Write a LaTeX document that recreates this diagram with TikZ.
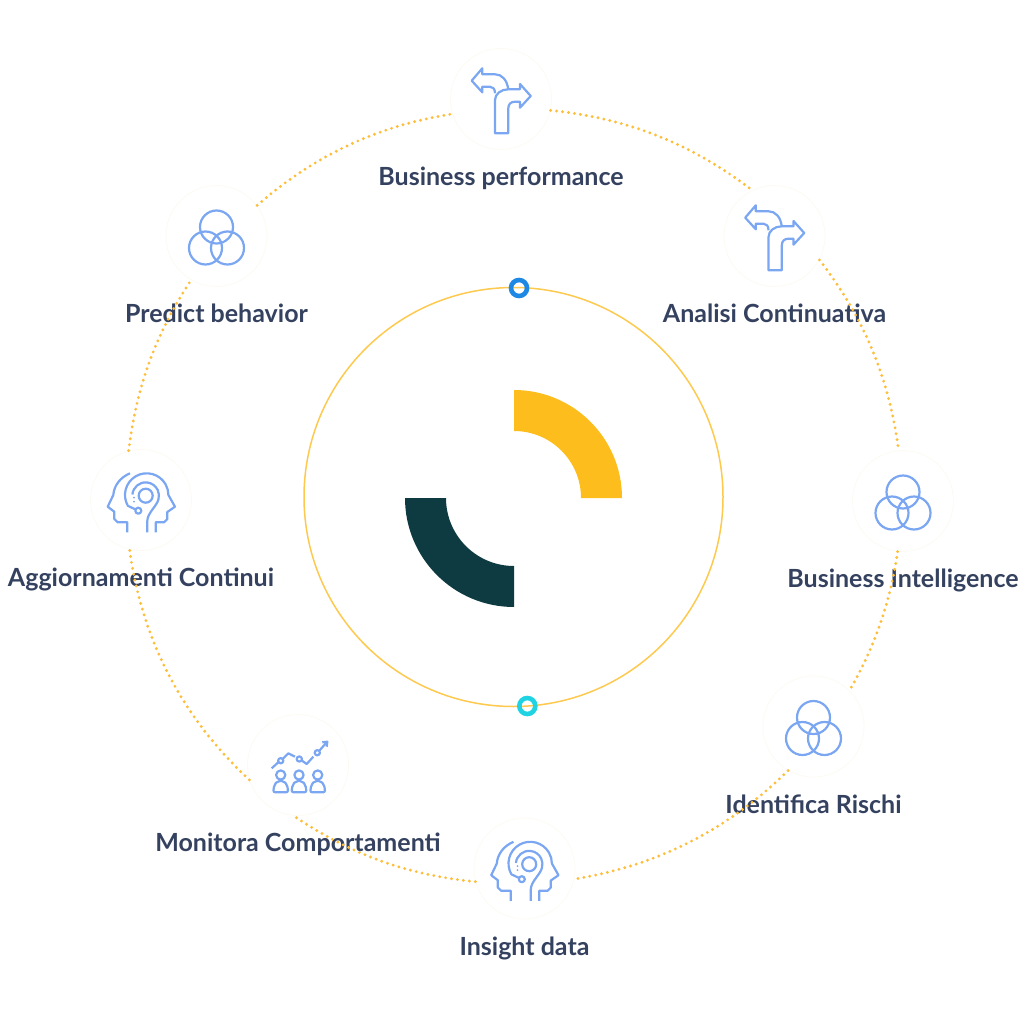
\documentclass[tikz,border=0pt]{standalone}
\usepackage{fontspec}
\setmainfont{Lato}
\usetikzlibrary{positioning}

\definecolor{ringyellow}{HTML}{FDC94F}
\definecolor{dotyellow}{HTML}{FDBE3C}
\definecolor{arcyellow}{HTML}{FDBE1D}
\definecolor{arcdark}{HTML}{0E3A41}
\definecolor{iconblue}{HTML}{7AA6F2}
\definecolor{labelnavy}{HTML}{34415F}
\definecolor{discline}{HTML}{FCFAF3}
\definecolor{markblue}{HTML}{1E88E5}
\definecolor{markcyan}{HTML}{1FD3E3}

\tikzset{
    iconline/.style={draw=iconblue, line width=2.2pt, line join=round},
    forkicon/.pic={
        \draw[iconline] (-6,34.3) -- (7.3,34.3) -- (7.3,9.3) .. controls (7.3,5) and (10,2.7) .. (14,2.7) -- (19,2.7) -- (19,8.7) -- (29.7,-3) -- (19,-15) -- (19,-9.7) -- (7.3,-9.7) .. controls (0,-9.7) and (-6,-5) .. (-6,1) -- cycle;
        \draw[iconline] (7.3,-9.7) .. controls (6,-19) and (1,-24.7) .. (-6,-24.7) -- (-18.7,-24.7) -- (-18.7,-30.7) -- (-29.3,-18.3) -- (-18.7,-6.7) -- (-18.7,-12.3) -- (-11,-12.3) .. controls (-8,-12.3) and (-6,-10) .. (-6,-5.7);
    },
    vennicon/.pic={
        \draw[iconline] (0,-9) circle[radius=16.5];
        \draw[iconline] (-11,12) circle[radius=16.5];
        \draw[iconline] (11,12) circle[radius=16.5];
    },
    headsicon/.pic={
        % left face
        \draw[iconline] (-11,-26.7) .. controls (-20,-23) and (-27,-15) .. (-27.7,-5) -- (-33.3,6.7) -- (-26.7,11.7) -- (-26.7,19) -- (-23.3,22.3) -- (-13.7,22.3) -- (-13.7,32.3);
        % right face, running on from the small ring
        \draw[iconline] (-5.3,9.5) -- (-13.1,5.85) arc[start angle=150, end angle=360, radius=21.7] -- (34,6.7) -- (26.3,12) -- (26.3,19) -- (23,22.3) -- (14.7,22.3) -- (14.7,32.3);
        \draw[iconline] (-8.6,-5.5) arc[start angle=-175, end angle=15, radius=13.3] .. controls (16,6) and (6.3,13) .. (6.3,21) -- (6.3,32.3);
        \draw[iconline] (4.7,-4.3) circle[radius=7];
        \draw[iconline] (-2.7,10.7) circle[radius=3];
        \fill[iconblue] (-7,-2.3) circle[radius=1] (-7,1.7) circle[radius=1];
    },
    crowdicon/.pic={
        \draw[iconline] (-26.3,3.3) -- (-19.7,-2.7);
        \draw[iconline] (-15.3,-6) -- (-9.7,-11.7) -- (-3,-8.3);
        \draw[iconline] (3.7,-4.5) -- (8.7,-1) -- (15.3,-8.3);
        \draw[iconline] (21.5,-14.5) -- (28.7,-22.7);
        \draw[iconline] (24.3,-22.7) -- (29.3,-23.3) -- (28.7,-18.3);
        \draw[iconline] (-17.3,-4.3) circle[radius=2.6];
        \draw[iconline] (1.3,-6) circle[radius=2.6];
        \draw[iconline] (19.3,-12.3) circle[radius=2.6];
        \foreach \px in {-17.3,1,19.7} {
            \draw[iconline] (\px,10) circle[radius=4.6];
            \draw[iconline, rounded corners=2pt] (\px-7.5,27.3) -- (\px-6.5,20) -- (\px-3,16) -- (\px+3,16) -- (\px+6.5,20) -- (\px+7.5,27.3) -- cycle;
        }
    }
}

\begin{document}
\begin{tikzpicture}[
    x=1pt, y=-1pt,
    node distance=18.8pt,
    disc/.style={circle, draw=discline, line width=0.8pt, minimum size=101pt, inner sep=0pt},
    caption/.style={text=labelnavy, font=\bfseries\fontsize{25}{29}\selectfont, inner sep=0pt, text height=17pt, text depth=5pt},
    dotring/.style={draw=dotyellow, line width=3.2pt, line cap=round, dash pattern=on 0pt off 6pt, looseness=0.9},
    marker/.style={circle, line width=4.6pt, minimum size=16pt, inner sep=0pt}
]
    \useasboundingbox (0,0) rectangle (1024,1024);

    \node[disc] (busperf) at (501,99) {};
    \node[disc] (analisi) at (774.5,236) {};
    \node[disc] (busint) at (903,501) {};
    \node[disc] (rischi) at (813.5,726.5) {};
    \node[disc] (insight) at (524.5,868.5) {};
    \node[disc] (monitora) at (298,765) {};
    \node[disc] (aggiorn) at (141,500) {};
    \node[disc] (predict) at (216.5,236) {};

    \node[caption, below=of busperf] (busperflabel) {Business performance};
    \node[caption, below=of analisi] (analisilabel) {Analisi Continuativa};
    \node[caption, below=of busint] (busintlabel) {Business Intelligence};
    \node[caption, below=of rischi] (rischilabel) {Identifica Rischi};
    \node[caption, below=of insight] (insightlabel) {Insight data};
    \node[caption, below=of monitora] (monitoralabel) {Monitora Comportamenti};
    \node[caption, below=of aggiorn] (aggiornlabel) {Aggiornamenti Continui};
    \node[caption, below=of predict] (predictlabel) {Predict behavior};

    \pic at (busperf) {forkicon};
    \pic at (analisi) {forkicon};
    \pic at (busint) {vennicon};
    \pic at (rischi) {vennicon};
    \pic at (insight) {headsicon};
    \pic at (monitora) {crowdicon};
    \pic at (aggiorn) {headsicon};
    \pic at (predict) {vennicon};

    \draw[dotring] (busperf.-13) to[bend left=16] (analisi.116);
    \draw[dotring] (analisi.-28) to[bend left=15.2] (busint.95);
    \draw[dotring] (busint.-96) to[bend left=10.6] (rischi.45);
    \draw[dotring] (rischi.-120.7) to[bend left=17.7] (insight.-12.6);
    \draw[dotring] (insight.-165) to[bend left=14.4] (monitora.-95);
    \draw[dotring] (monitora.-163) to[bend left=19.6] (aggiorn.-103);
    \draw[dotring] (aggiorn.104.5) to[bend left=13.3] (predict.-120);
    \draw[dotring] (predict.37) to[bend left=16] (busperf.-163);

    \draw[ringyellow, line width=1.5pt] (513.5,497) circle[radius=209.5];
    \fill[arcyellow] (514,390) arc[start angle=-90, end angle=0, radius=108] -- (581,498) arc[start angle=0, end angle=-90, radius=67] -- cycle;
    \fill[arcdark] (405,498) arc[start angle=180, end angle=90, radius=109] -- (514,566) arc[start angle=90, end angle=180, radius=68] -- cycle;

    \node[marker, draw=markblue] (topmark) at (519,288) {};
    \node[marker, draw=markcyan] (botmark) at (527.3,706) {};
\end{tikzpicture}
\end{document}
